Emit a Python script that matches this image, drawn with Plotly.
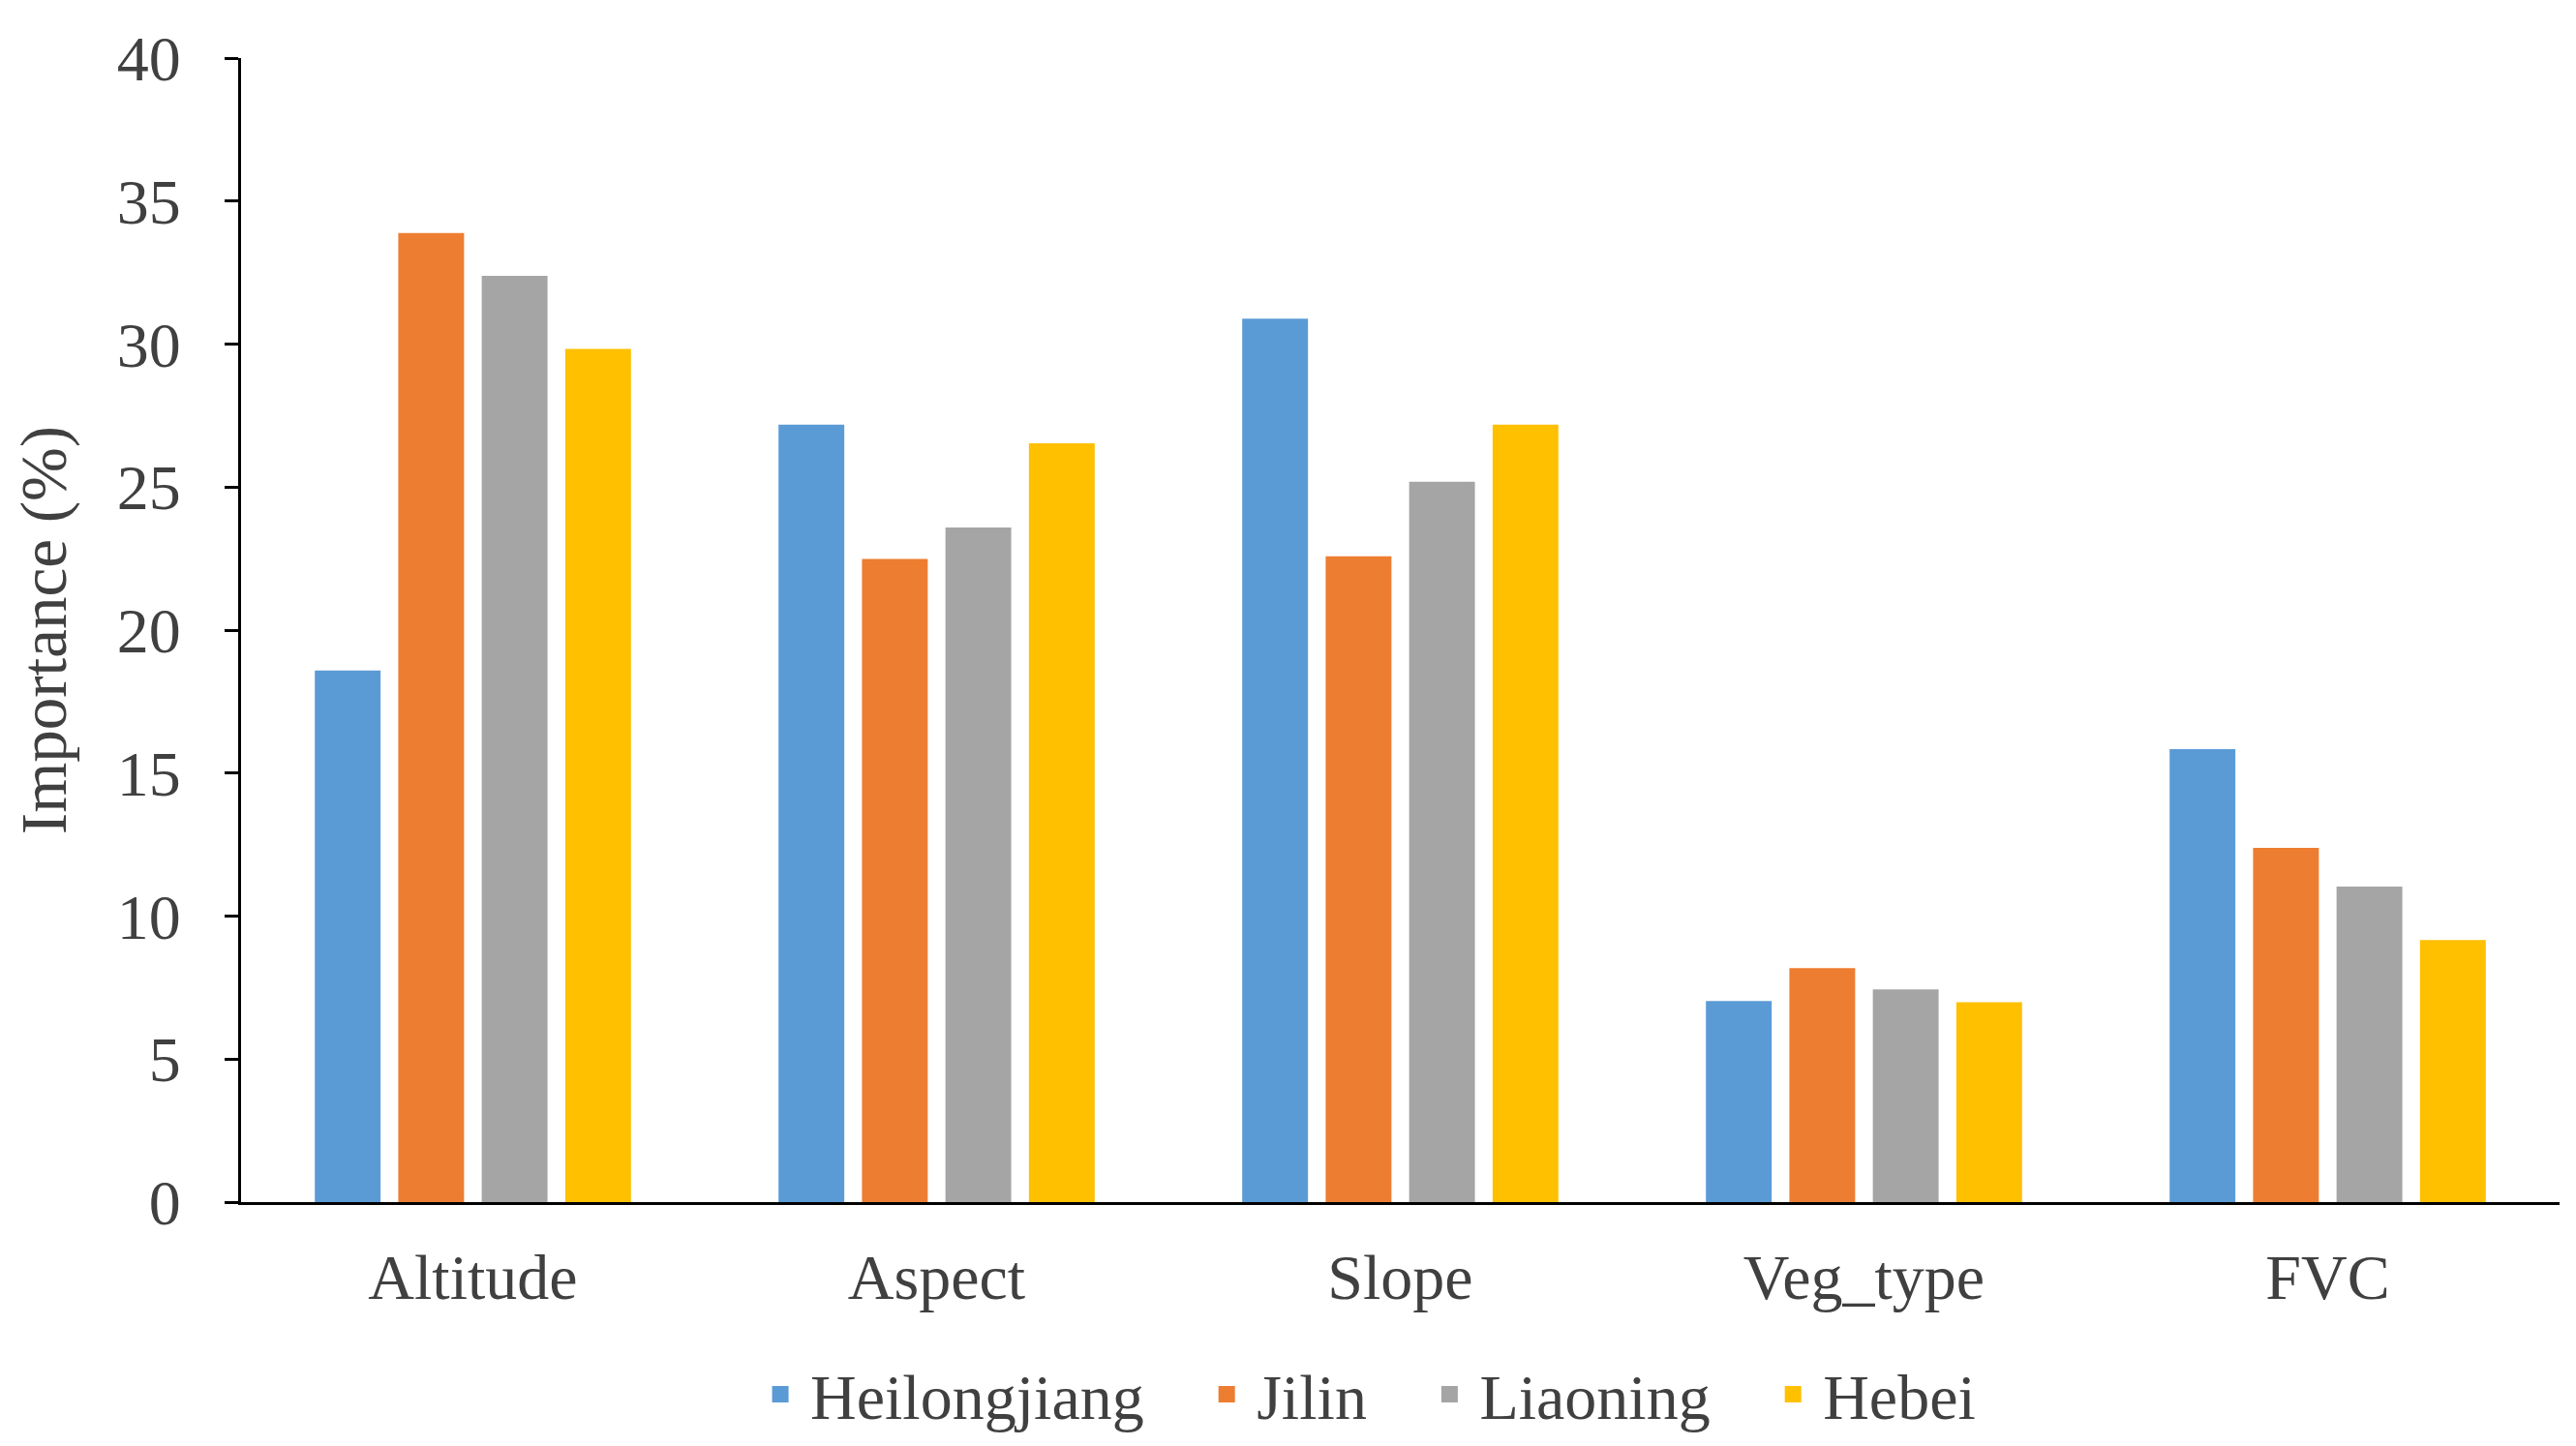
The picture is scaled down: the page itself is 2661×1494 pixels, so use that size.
import plotly.graph_objects as go

categories = ["Altitude", "Aspect", "Slope", "Veg_type", "FVC"]
heilongjiang = [18.5, 27.1, 30.8, 6.95, 15.75]
jilin = [33.8, 22.4, 22.5, 8.1, 12.3]
liaoning = [32.3, 23.5, 25.1, 7.35, 10.95]
hebei = [29.75, 26.45, 27.1, 6.9, 9.08]
y_ticks = [0, 5, 10, 15, 20, 25, 30, 35, 40]

series = [
    ("Heilongjiang", heilongjiang, "#5B9BD5"),
    ("Jilin", jilin, "#ED7D31"),
    ("Liaoning", liaoning, "#A5A5A5"),
    ("Hebei", hebei, "#FFC000"),
]

FONT = "Liberation Serif, Times New Roman, serif"
TXT = "#404040"
FS = 66
PAD = "\u00a0\u00a0\u00a0"

fig = go.Figure()
for i, (name, vals, col) in enumerate(series):
    label = name + (PAD if i < len(series) - 1 else "")
    fig.add_trace(go.Bar(name=label, x=categories, y=vals,
                         marker=dict(color=col, line=dict(width=5, color=col))))

fig.update_layout(
    width=2661, height=1494,
    paper_bgcolor="white", plot_bgcolor="white",
    margin=dict(l=241, r=25, t=52, b=238),
    barmode="group", bargap=0.28, bargroupgap=0.27,
    font=dict(family=FONT, size=FS, color=TXT),
    showlegend=True,
    legend=dict(orientation="h", x=0.485, xanchor="center", y=-0.168, yanchor="middle",
                font=dict(family=FONT, size=FS, color=TXT), itemwidth=52,
                traceorder="normal"),
)
fig.update_xaxes(showline=True, linecolor="black", linewidth=3, ticks="",
                 showgrid=False, zeroline=False,
                 tickfont=dict(family=FONT, size=FS, color=TXT), ticklabelstandoff=18)
fig.update_yaxes(range=[0, 40], tickvals=y_ticks, showline=True, linecolor="black",
                 linewidth=3, ticks="outside", ticklen=14, tickwidth=3, tickcolor="black",
                 showgrid=False, zeroline=False,
                 tickfont=dict(family=FONT, size=FS, color=TXT), ticklabelstandoff=32,
                 title=dict(text="Importance (%)", font=dict(family=FONT, size=67, color=TXT),
                            standoff=36))

fig.write_html("out.html")
